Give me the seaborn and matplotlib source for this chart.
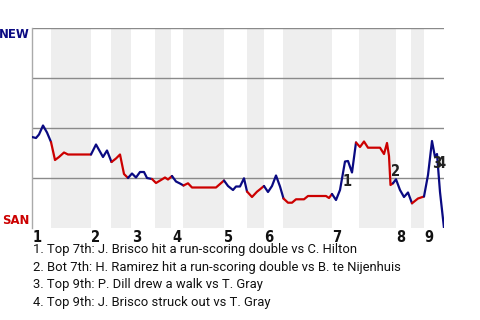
import matplotlib
matplotlib.use("Agg")
import matplotlib.pyplot as plt
import matplotlib.transforms as mtransforms
from matplotlib import font_manager as fm
import seaborn as sns
import pandas as pd

# ---- data (x = event position along the game, y = NEW win probability %) ----
event_x = [0, 4, 7, 11, 15, 19,
           23, 27, 32, 36, 59,
           64, 71, 75, 79.5,
           84, 88, 92, 96,
           100, 104, 108, 112, 115, 120,
           124, 129, 133, 136, 140,
           144, 148, 151.5,
           156, 160, 184, 189.5, 192,
           196, 201, 204, 208, 212, 215,
           220, 225, 228, 232,
           236, 240, 244, 248, 251.5,
           256, 260, 264, 272, 276, 294, 297, 300,
           304, 308, 313, 316, 320, 324,
           328, 332, 336, 348, 352, 355, 357, 358.5, 361,
           364, 368, 372, 376, 380,
           386, 392,
           396, 400, 403, 405, 408, 412]
new_win_pct = [45.5, 45, 46.75, 51.25, 47.75, 43,
               34, 35.5, 37.75, 36.75, 36.75,
               41.75, 35.5, 38.75, 33,
               34.75, 36.75, 27, 25,
               27.25, 25.25, 28, 28, 25, 24.5,
               22.5, 24, 25.25, 24.25, 26,
               23.25, 22.25, 21.25,
               22.35, 20.25, 20.25, 22.65, 23.75,
               21, 19, 20.75, 20.75, 24.85, 18.25,
               15.5, 18.15, 19.35, 21,
               18, 21, 26.25, 20.75, 14.75,
               12.65, 12.65, 14.35, 14.35, 16, 16, 15, 17,
               14, 19, 33.25, 33.5, 27.75, 42.75,
               40.5, 43.25, 40.15, 40.15, 37, 42.5, 36, 21.5, 22.35,
               24.35, 19, 15.5, 17.75, 12.35,
               14.75, 15.75,
               26.5, 43.5, 35.5, 37, 18, 0]
half_inning = ([0] * 6 + [1] * 5 + [2] * 4 + [3] * 4 + [4] * 6 + [5] * 5 +
               [6] * 3 + [7] * 5 + [8] * 6 + [9] * 4 + [10] * 5 + [11] * 8 +
               [12] * 6 + [13] * 9 + [14] * 5 + [15] * 2 + [16] * 6)

# bottom half-inning shaded spans
bottom_start = [19, 79.5, 123, 151.3, 214.7, 251.3, 327, 379]
bottom_end = [59, 99.5, 139.5, 192, 232, 299.7, 364, 392]

inning_labels = ["1", "2", "3", "4", "5", "6", "7", "8", "9"]
inning_start = [0, 59, 99.5, 139.5, 192, 232, 299.7, 364, 392]

note_labels = ["1", "2", "3", "4"]
note_x = [315.5, 364, 405, 408.5]
note_y = [23.25, 28.5, 32, 32]

notes = ["1. Top 7th: J. Brisco hit a run-scoring double vs C. Hilton",
         "2. Bot 7th: H. Ramirez hit a run-scoring double vs B. te Nijenhuis",
         "3. Top 9th: P. Dill drew a walk vs T. Gray",
         "4. Top 9th: J. Brisco struck out vs T. Gray"]

away_team, home_team = "NEW", "SAN"
away_color, home_color = "#0a0a82", "#cc0000"

# ---- plotting ----
sns.set_theme(style="white")
plt.rcParams['font.family'] = ['Roboto', 'DejaVu Sans']

# pick a condensed bold face if one is installed
faces = fm.fontManager.ttflist
cond_kw = dict(family=['Roboto', 'DejaVu Sans'])
size_digits, size_team = 9.5, 9.0
if any(f.name == 'Liberation Sans Narrow' for f in faces):
    cond_kw = dict(family=['Liberation Sans Narrow'])
    size_digits, size_team = 11, 10.5
elif any(f.name == 'DejaVu Sans' and f.stretch == 'condensed' for f in faces):
    cond_kw = dict(family=['DejaVu Sans'], fontstretch='condensed')
    size_digits, size_team = 10.5, 9.4

fig = plt.figure(figsize=(4.8, 3.2), dpi=100)
ax = fig.add_axes([32 / 480, 92 / 320, 412 / 480, 200 / 320])

for s, e in zip(bottom_start, bottom_end):
    ax.axvspan(s, e, color="#eeeeee", lw=0, zorder=0)
for g in [25, 50, 75, 100]:
    ax.axhline(g, color="#8a8a8a", lw=1.0, zorder=1)

df = pd.DataFrame({"x": event_x, "p": new_win_pct, "h": half_inning})
prev = None
for h in sorted(df["h"].unique()):
    seg = df[df["h"] == h]
    if prev is not None:
        seg = pd.concat([prev, seg])
    col = away_color if h % 2 == 0 else home_color
    sns.lineplot(data=seg, x="x", y="p", sort=False, color=col, lw=1.6,
                 ax=ax, zorder=3)
    prev = df[df["h"] == h].tail(1)

ax.set_xlim(0, 412)
ax.set_ylim(0, 100)
ax.set_xticks([])
ax.set_yticks([])
ax.set_xlabel("")
ax.set_ylabel("")
for side in ["top", "right", "bottom"]:
    ax.spines[side].set_visible(False)
ax.spines["left"].set_color("#aaaaaa")
ax.spines["left"].set_linewidth(1.0)

for lab, x, y in zip(note_labels, note_x, note_y):
    ax.text(x, y, lab, ha="center", va="center", fontweight="bold",
            color="#222222", zorder=4, fontsize=size_digits, **cond_kw)

trans = mtransforms.blended_transform_factory(ax.transData, ax.transAxes)
for lab, x in zip(inning_labels, inning_start):
    ax.text(x + 0.5, -0.05, lab, transform=trans, ha="left", va="center",
            fontweight="bold", color="#111111", fontsize=size_digits, **cond_kw)

fig.text(29.5 / 480, 1 - 34 / 320, away_team, ha="right", va="center",
         fontweight="bold", color=away_color, fontsize=size_team, **cond_kw)
fig.text(29.5 / 480, 1 - 221 / 320, home_team, ha="right", va="center",
         fontweight="bold", color=home_color, fontsize=size_team, **cond_kw)

for i, t in enumerate(notes):
    fig.text(33 / 480, 1 - (249.5 + 17.7 * i) / 320, t, ha="left", va="center",
             fontsize=9.4, color="#111111")

fig.savefig("out.png", dpi=100)
